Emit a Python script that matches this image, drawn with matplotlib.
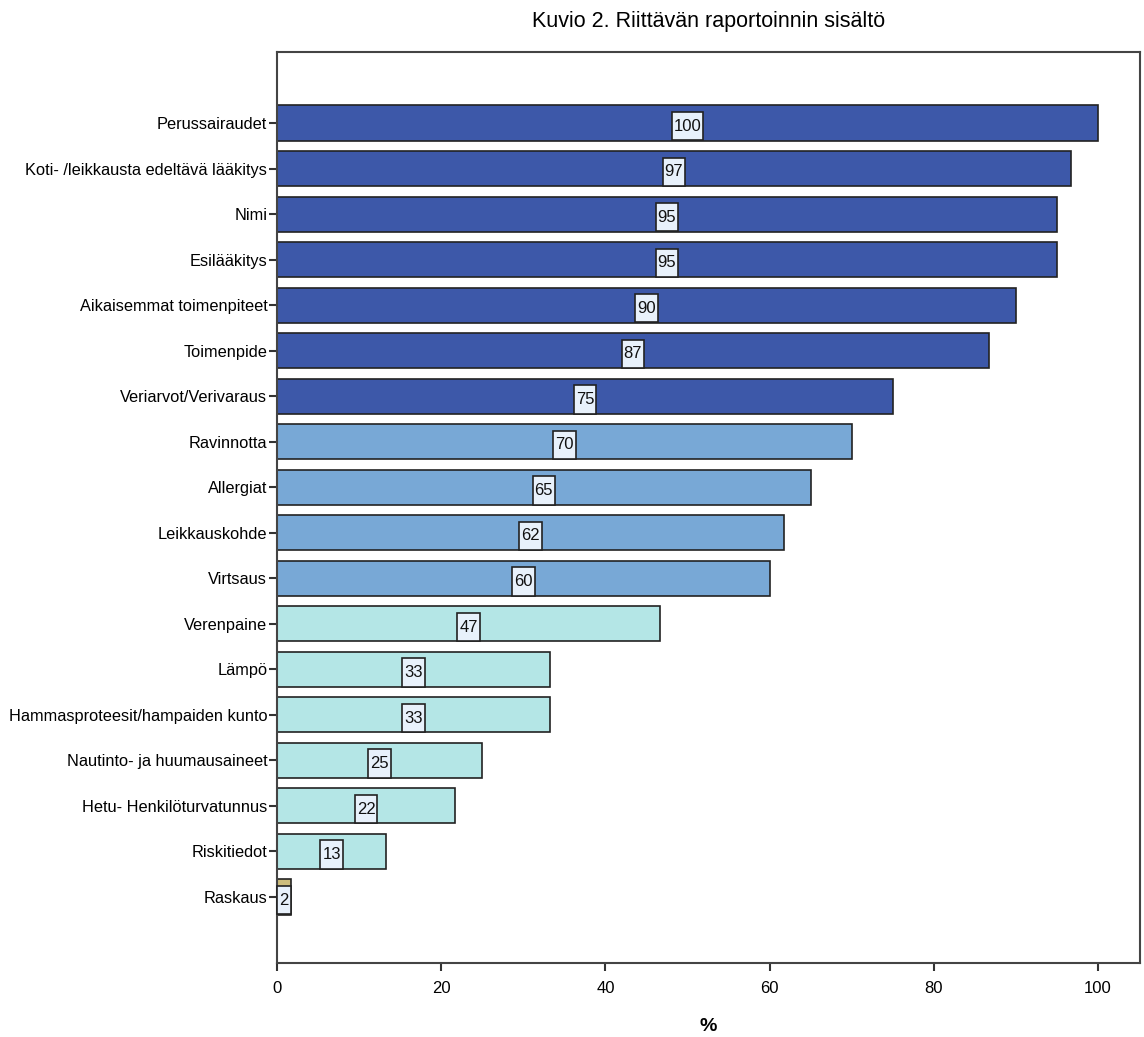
import matplotlib
matplotlib.use("Agg")
import matplotlib.pyplot as plt
import numpy as np
from matplotlib.path import Path

plt.rcParams['font.family'] = ['Liberation Sans', 'DejaVu Sans']

categories = [
    "Perussairaudet", "Koti- /leikkausta edeltävä lääkitys", "Nimi", "Esilääkitys",
    "Aikaisemmat toimenpiteet", "Toimenpide", "Veriarvot/Verivaraus", "Ravinnotta",
    "Allergiat", "Leikkauskohde", "Virtsaus", "Verenpaine", "Lämpö",
    "Hammasproteesit/hampaiden kunto", "Nautinto- ja huumausaineet",
    "Hetu- Henkilöturvatunnus", "Riskitiedot", "Raskaus",
]
values = [100, 96.7, 95, 95, 90, 86.7, 75, 70, 65, 61.7, 60, 46.7, 33.3, 33.3,
          25, 21.7, 13.3, 1.7]
groups = ["high"] * 7 + ["mid"] * 4 + ["low"] * 6 + ["rare"]
group_colors = {"high": "#3d58a9", "mid": "#78a8d6", "low": "#b4e6e6", "rare": "#cdbd7c"}


def tall_box(x0, y0, width, height, mutation_size, padx=0.12, pady=0.4):
    # label box: narrow sides, tall top/bottom like the SPSS data labels
    px, py = padx * mutation_size, pady * mutation_size
    x0, x1 = x0 - px, x0 + width + px
    y0, y1 = y0 - py, y0 + height + py
    return Path([(x0, y0), (x1, y0), (x1, y1), (x0, y1), (x0, y0)], closed=True)


fig = plt.figure(figsize=(11.44, 10.37), dpi=100)
ax = fig.add_axes([277 / 1144, 1 - 963 / 1037, (1140 - 277) / 1144, (963 - 52) / 1037])

y = np.arange(len(categories))
colors = [group_colors[g] for g in groups]
ax.barh(y, values, height=0.77, color=colors, edgecolor="#222222", linewidth=1.2, zorder=2)

for yi, v in zip(y, values):
    ax.text(v / 2, yi + 0.07, f"{round(v):d}", ha="center", va="center", fontsize=12,
            color="#111111", zorder=3,
            bbox=dict(boxstyle=tall_box, facecolor="#e8f1fb",
                      edgecolor="#222222", linewidth=1.2))

ax.set_ylim(len(categories) - 1 + 1.45, -1.56)
ax.set_xlim(0, 105.1)
ax.set_yticks(y)
ax.set_yticklabels(categories, fontsize=11.8)
ax.set_xticks([0, 20, 40, 60, 80, 100])
ax.tick_params(axis="x", labelsize=12, length=6, width=1.5, color="#333333", pad=7)
ax.tick_params(axis="y", length=6, width=1.5, color="#333333", pad=1)
for s in ax.spines.values():
    s.set_color("#444444")
    s.set_linewidth(1.5)

ax.set_xlabel("%", fontsize=14, fontweight="bold", labelpad=16)
fig.suptitle("Kuvio 2. Riittävän raportoinnin sisältö", x=(277 + 1140) / 2 / 1144,
             y=1 - 22 / 1037, va="center", fontsize=15.5)

fig.savefig("out.png", dpi=100, facecolor="white")
